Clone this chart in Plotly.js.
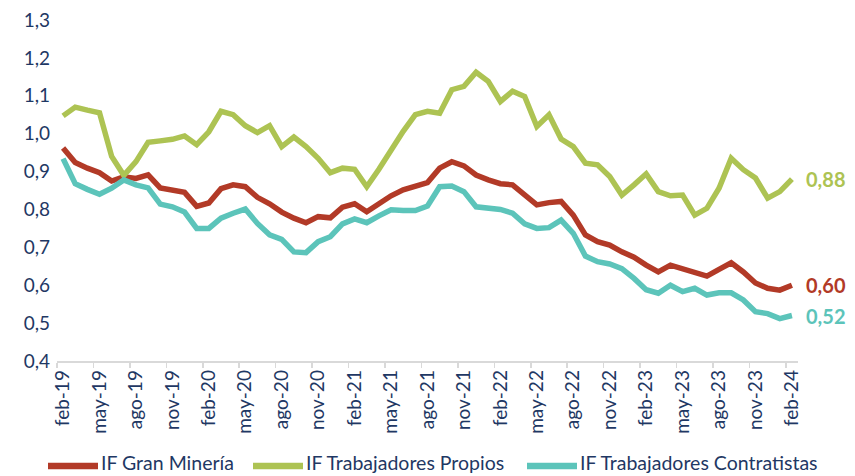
<!DOCTYPE html>
<html>
<head>
<meta charset="utf-8">
<script src="https://cdn.plot.ly/plotly-3.0.1.min.js"></script>
<style>
  html, body { margin: 0; padding: 0; background: #ffffff; }
  #chart { width: 855px; height: 476px; }
</style>
</head>
<body>
<div id="chart"></div>
<script>
// Month categories feb-19 .. feb-24
const months = [
  "feb-19","mar-19","abr-19","may-19","jun-19","jul-19","ago-19","sep-19","oct-19","nov-19","dic-19","ene-20",
  "feb-20","mar-20","abr-20","may-20","jun-20","jul-20","ago-20","sep-20","oct-20","nov-20","dic-20","ene-21",
  "feb-21","mar-21","abr-21","may-21","jun-21","jul-21","ago-21","sep-21","oct-21","nov-21","dic-21","ene-22",
  "feb-22","mar-22","abr-22","may-22","jun-22","jul-22","ago-22","sep-22","oct-22","nov-22","dic-22","ene-23",
  "feb-23","mar-23","abr-23","may-23","jun-23","jul-23","ago-23","sep-23","oct-23","nov-23","dic-23","ene-24",
  "feb-24"
];

const granMineria = [
  0.962,0.924,0.909,0.897,0.875,0.886,0.882,0.891,0.857,0.852,0.845,0.808,
  0.817,0.855,0.865,0.860,0.832,0.815,0.793,0.777,0.765,0.781,0.778,0.806,
  0.815,0.794,0.815,0.836,0.852,0.860,0.871,0.909,0.926,0.915,0.891,0.878,
  0.868,0.865,0.838,0.812,0.818,0.821,0.785,0.733,0.715,0.706,0.688,0.674,
  0.653,0.635,0.653,0.644,0.633,0.624,0.642,0.659,0.635,0.606,0.592,0.587,
  0.60
];

const trabPropios = [
  1.047,1.070,1.062,1.055,0.940,0.890,0.926,0.977,0.981,0.985,0.994,0.971,
  1.005,1.059,1.050,1.021,1.003,1.021,0.966,0.991,0.966,0.935,0.897,0.909,
  0.906,0.860,0.906,0.957,1.006,1.050,1.059,1.054,1.116,1.125,1.162,1.138,
  1.085,1.112,1.098,1.019,1.050,0.986,0.966,0.922,0.918,0.887,0.838,0.865,
  0.894,0.847,0.836,0.838,0.785,0.803,0.856,0.935,0.905,0.883,0.830,0.847,
  0.88
];

const trabContratistas = [
  0.934,0.868,0.853,0.840,0.856,0.878,0.865,0.857,0.814,0.807,0.793,0.750,
  0.750,0.777,0.790,0.801,0.763,0.733,0.721,0.688,0.686,0.715,0.728,0.762,
  0.775,0.765,0.783,0.799,0.797,0.797,0.809,0.860,0.862,0.847,0.807,0.803,
  0.800,0.790,0.762,0.750,0.752,0.772,0.737,0.677,0.662,0.656,0.644,0.618,
  0.588,0.579,0.600,0.583,0.592,0.574,0.580,0.580,0.561,0.530,0.525,0.512,
  0.52
];

const seriesNames = ["IF Gran Minería", "IF Trabajadores Propios", "IF Trabajadores Contratistas"];
const yTicks = [0.4, 0.5, 0.6, 0.7, 0.8, 0.9, 1.0, 1.1, 1.2, 1.3];

const colors = ["#B23A27", "#ADC353", "#5CC4BA"];
const navy = "#1F3864";
const FONT = "Lato, 'Open Sans', sans-serif";

const W = 855, H = 476;
const M = { l: 57, r: 57, t: 20, b: 115 };
const plotW = W - M.l - M.r, plotH = H - M.t - M.b;
const px2paperX = px => (px - M.l) / plotW;
const py2paperY = py => (H - M.b - py) / plotH;

const xIdx = months.map((_, i) => i);
const labelIdx = xIdx.filter(i => i % 3 === 0);
const boundaryIdx = xIdx.filter(i => i % 3 === 0).map(i => i - 0.5);

const allSeries = [granMineria, trabPropios, trabContratistas];

const traces = allSeries.map((vals, k) => ({
  type: "scatter",
  mode: "lines",
  x: xIdx,
  y: vals,
  name: seriesNames[k],
  line: { color: colors[k], width: 5.5, shape: "linear" },
  hoverinfo: "skip",
  showlegend: false
}));

const last = months.length - 1;
const annotations = allSeries.map((vals, k) => ({
  x: last,
  y: vals[last],
  xref: "x",
  yref: "y",
  text: "<b>" + vals[last].toFixed(2).replace(".", ",") + "</b>",
  showarrow: false,
  xanchor: "left",
  yanchor: "middle",
  xshift: 12,
  font: { family: FONT, size: 20, color: colors[k] }
}));

// Custom legend (sample line + label) laid out along the bottom
const legendLineY = 466;
const legendTextY = 462.5;
const legendSampleStart = [48, 253, 527];
const sampleLen = 50;
const shapes = [];
seriesNames.forEach((name, k) => {
  const x0 = legendSampleStart[k];
  shapes.push({
    type: "line",
    xref: "paper", yref: "paper",
    x0: px2paperX(x0), x1: px2paperX(x0 + sampleLen),
    y0: py2paperY(legendLineY), y1: py2paperY(legendLineY),
    line: { color: colors[k], width: 6.5 }
  });
  annotations.push({
    xref: "paper", yref: "paper",
    x: px2paperX(x0 + sampleLen + 1),
    y: py2paperY(legendTextY),
    text: name,
    showarrow: false,
    xanchor: "left",
    yanchor: "middle",
    font: { family: FONT, size: 19.5, color: navy }
  });
});

const layout = {
  width: W,
  height: H,
  margin: { l: M.l, r: M.r, t: M.t, b: M.b, autoexpand: false },
  paper_bgcolor: "#ffffff",
  plot_bgcolor: "#ffffff",
  separators: ",.",
  showlegend: false,
  font: { family: FONT, color: navy, size: 18 },
  xaxis: {
    range: [-0.5, 60.5],
    tickmode: "array",
    tickvals: labelIdx,
    ticktext: labelIdx.map(i => months[i]),
    tickangle: -90,
    ticks: "",
    showgrid: false,
    zeroline: false,
    showline: true,
    linecolor: "#d9d9d9",
    linewidth: 1.5,
    automargin: false,
    tickfont: { family: FONT, size: 19, color: navy },
    minor: {
      tickmode: "array",
      tickvals: boundaryIdx,
      ticks: "outside",
      ticklen: 5,
      tickwidth: 1.5,
      tickcolor: "#d9d9d9",
      showgrid: false
    },
    fixedrange: true
  },
  yaxis: {
    range: [0.4, 1.3],
    tickmode: "array",
    tickvals: yTicks,
    tickformat: ".1f",
    showgrid: false,
    zeroline: false,
    showline: false,
    ticks: "",
    automargin: false,
    ticklabelstandoff: 6,
    tickfont: { family: FONT, size: 19, color: navy },
    fixedrange: true
  },
  shapes: shapes,
  annotations: annotations
};

Plotly.newPlot("chart", traces, layout, { displayModeBar: false, staticPlot: true });
</script>
</body>
</html>
